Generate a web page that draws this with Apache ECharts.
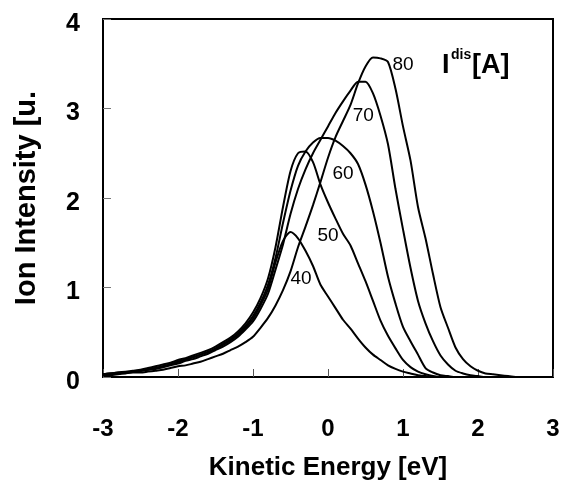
<!DOCTYPE html>
<html>
<head>
<meta charset="utf-8">
<script src="https://cdn.jsdelivr.net/npm/echarts@6/dist/echarts.min.js"></script>
<style>
  html, body { margin: 0; padding: 0; background: #fff; }
  #chart { width: 568px; height: 488px; }
</style>
</head>
<body>
<div id="chart"></div>
<script>
// kinetic energy grid [eV], -3.0 ... 2.5 in 0.1 steps
var energy = [
  -3.0, -2.9, -2.8, -2.7, -2.6, -2.5, -2.4, -2.3, -2.2, -2.1,
  -2.0, -1.9, -1.8, -1.7, -1.6, -1.5, -1.4, -1.3, -1.2, -1.1,
  -1.0, -0.9, -0.8, -0.7, -0.6, -0.5, -0.4, -0.3, -0.2, -0.1,
  0.0, 0.1, 0.2, 0.3, 0.4, 0.5, 0.6, 0.7, 0.8, 0.9,
  1.0, 1.1, 1.2, 1.3, 1.4, 1.5, 1.6, 1.7, 1.8, 1.9,
  2.0, 2.1, 2.2, 2.3, 2.4, 2.5
];

// ion intensity [u.a.] for each discharge current
var i40 = [
  0.03, 0.04, 0.05, 0.05, 0.06, 0.07, 0.09, 0.10, 0.12, 0.14,
  0.17, 0.19, 0.22, 0.25, 0.28, 0.31, 0.36, 0.41, 0.47, 0.55,
  0.65, 0.80, 0.98, 1.28, 1.52, 1.62, 1.55, 1.41, 1.24, 1.03,
  0.90, 0.77, 0.64, 0.54, 0.43, 0.33, 0.25, 0.19, 0.13, 0.09,
  0.06, 0.04, 0.02, 0.01, 0, 0, 0, 0, 0, 0,
  0, 0, 0, 0, 0, 0
];
var i50 = [
  0.03, 0.04, 0.05, 0.06, 0.07, 0.08, 0.10, 0.12, 0.14, 0.16,
  0.19, 0.21, 0.24, 0.27, 0.30, 0.34, 0.39, 0.44, 0.51, 0.60,
  0.72, 0.88, 1.10, 1.45, 1.90, 2.30, 2.50, 2.52, 2.40, 2.15,
  1.95, 1.77, 1.60, 1.47, 1.27, 1.07, 0.85, 0.63, 0.46, 0.32,
  0.19, 0.11, 0.06, 0.03, 0.01, 0, 0, 0, 0, 0,
  0, 0, 0, 0, 0, 0
];
var i60 = [
  0.03, 0.04, 0.04, 0.05, 0.06, 0.07, 0.08, 0.10, 0.12, 0.14,
  0.17, 0.20, 0.22, 0.25, 0.28, 0.32, 0.37, 0.42, 0.49, 0.57,
  0.68, 0.83, 1.03, 1.33, 1.72, 2.08, 2.36, 2.52, 2.62, 2.67,
  2.67, 2.64, 2.58, 2.50, 2.38, 2.15, 1.85, 1.50, 1.12, 0.82,
  0.56, 0.40, 0.25, 0.10, 0.05, 0.02, 0.01, 0, 0, 0,
  0, 0, 0, 0, 0, 0
];
var i70 = [
  0.02, 0.03, 0.04, 0.05, 0.06, 0.07, 0.08, 0.09, 0.11, 0.13,
  0.15, 0.18, 0.20, 0.23, 0.26, 0.30, 0.34, 0.39, 0.45, 0.53,
  0.62, 0.76, 0.93, 1.20, 1.48, 1.82, 2.10, 2.32, 2.50, 2.65,
  2.80, 2.95, 3.08, 3.20, 3.30, 3.30, 3.17, 2.92, 2.60, 2.10,
  1.65, 1.22, 0.85, 0.60, 0.40, 0.24, 0.14, 0.07, 0.04, 0.02,
  0.01, 0, 0, 0, 0, 0
];
var i80 = [
  0.02, 0.02, 0.03, 0.04, 0.05, 0.05, 0.06, 0.07, 0.08, 0.10,
  0.12, 0.13, 0.15, 0.17, 0.20, 0.23, 0.26, 0.30, 0.34, 0.39,
  0.45, 0.55, 0.66, 0.80, 0.97, 1.18, 1.45, 1.68, 1.92, 2.18,
  2.45, 2.68, 2.86, 3.04, 3.28, 3.47, 3.57, 3.56, 3.52, 3.22,
  2.80, 2.42, 1.90, 1.55, 1.15, 0.78, 0.55, 0.33, 0.20, 0.12,
  0.07, 0.04, 0.03, 0.02, 0.01, 0
];

var curveNames = ["40", "50", "60", "70", "80"];
var curves = [i40, i50, i60, i70, i80];

// where the curve names sit [energy, intensity, text]
var curveLabels = [
  [-0.36, 1.10, "40"],
  [0.0, 1.58, "50"],
  [0.2, 2.27, "60"],
  [0.47, 2.92, "70"],
  [1.0, 3.49, "80"]
];

var xTicks = [-3, -2, -1, 0, 1, 2, 3];
var yTicks = [0, 1, 2, 3, 4];

var font = "'Liberation Sans', Arial, sans-serif";
var chart = echarts.init(document.getElementById("chart"));

var series = curves.map(function (vals, k) {
  return {
    name: curveNames[k],
    type: "line",
    data: energy.map(function (e, j) { return [e, vals[j]]; }),
    showSymbol: false,
    smooth: 0.25,
    lineStyle: { color: "#000", width: 2 },
    silent: true,
    z: 3
  };
});

series.push({
  name: "labels",
  type: "scatter",
  data: curveLabels,
  symbolSize: 0,
  silent: true,
  itemStyle: { opacity: 1 },
  label: {
    show: true,
    position: "inside",
    formatter: function (p) { return p.value[2]; },
    color: "#000",
    fontFamily: font,
    fontSize: 19
  },
  z: 4
});

var option = {
  animation: false,
  grid: {
    left: 103, top: 19, right: 15, bottom: 111,
    show: true, borderColor: "#000", borderWidth: 2,
    backgroundColor: "transparent"
  },
  xAxis: {
    type: "value",
    min: xTicks[0],
    max: xTicks[xTicks.length - 1],
    interval: 1,
    name: "Kinetic Energy [eV]",
    nameLocation: "middle",
    nameGap: 78,
    nameTextStyle: { fontFamily: font, fontWeight: "bold", fontSize: 26, color: "#000" },
    axisLine: { onZero: false, lineStyle: { color: "#000", width: 2 } },
    axisTick: { inside: true, length: 8, lineStyle: { color: "#555", width: 1 } },
    axisLabel: {
      margin: 40, color: "#000", fontFamily: font, fontWeight: "bold", fontSize: 24
    },
    splitLine: { show: false }
  },
  yAxis: {
    type: "value",
    min: yTicks[0],
    max: yTicks[yTicks.length - 1],
    interval: 1,
    name: "Ion Intensity [u.",
    nameLocation: "middle",
    nameRotate: 90,
    nameGap: 62,
    nameTextStyle: { fontFamily: font, fontWeight: "bold", fontSize: 29, color: "#000" },
    axisLine: { onZero: false, lineStyle: { color: "#000", width: 2 } },
    axisTick: { inside: true, length: 8, lineStyle: { color: "#777", width: 1 } },
    axisLabel: {
      margin: 23,
      formatter: "{a|{value}}",
      rich: {
        a: { color: "#000", fontFamily: font, fontWeight: "bold", fontSize: 25, padding: [10, 0, 0, 0] }
      }
    },
    splitLine: { show: false }
  },
  graphic: [
    { type: "text", left: 442, top: 52,
      style: { text: "I", font: "bold 27px " + font, fill: "#000" } },
    { type: "text", left: 451, top: 48,
      style: { text: "dis", font: "bold 14px " + font, fill: "#000" } },
    { type: "text", left: 472, top: 52,
      style: { text: "[A]", font: "bold 27px " + font, fill: "#000" } }
  ],
  series: series
};

chart.setOption(option);
</script>
</body>
</html>
